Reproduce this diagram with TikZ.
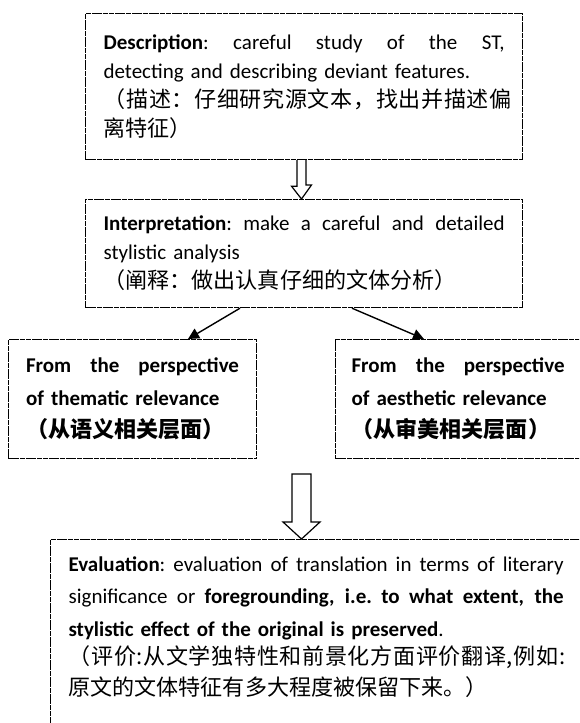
\documentclass[tikz,border=0pt]{standalone}
\usepackage{fontspec}
\setmainfont{Carlito}
\newfontfamily\cjk{Noto Sans CJK SC}[Scale=1.05]
\newfontfamily\cjkls{Noto Sans CJK SC}[Scale=1.05,LetterSpace=3]
\usetikzlibrary{arrows.meta,calc}
\newcommand\jl[2]{\leavevmode\hbox to #1{\spaceskip=0.23em plus 1fil\xspaceskip=0.23em plus 1fil\relax #2}}
\tikzset{
  box/.style={draw, line width=1.2pt, dash pattern=on 5pt off 0.7pt, anchor=north west,
    align=left, font=\fontsize{21}{29}\selectfont, inner ysep=0pt},
  sidebox/.style={box, font=\fontsize{21}{32.5}\selectfont},
  arr/.style={line width=1.4pt, -{Triangle[length=11pt,width=11pt]}},
  hollow/.style={line width=1.2pt, line join=miter}
}
\begin{document}
\begin{tikzpicture}[x=1pt,y=1pt]
\useasboundingbox (0,0) rectangle (579,-723);
\fill[white] (0,0) rectangle (579,-723);
\clip (0,0) rectangle (579,-723);

\node[box, minimum width=437pt, minimum height=146pt, text width=401pt, inner xsep=18pt]
  (desc) at (85,-13) {%
  \jl{401pt}{\textbf{Description}: careful study of the ST,}\\
  detecting and describing deviant features.\\
  {\cjkls （描述：仔细研究源文本，找出并描述偏}\\
  {\cjk 离特征）}};

\node[box, minimum width=437pt, minimum height=108pt, text width=401pt, inner xsep=18pt]
  (interp) at (85,-199) {%
  \jl{401pt}{\textbf{Interpretation}: make a careful and detailed}\\
  stylistic analysis\\
  {\cjk （阐释：做出认真仔细的文体分析）}};

\node[sidebox, minimum width=248pt, minimum height=119pt, text width=213pt, inner xsep=17.5pt]
  (thematic) at (8,-339) {%
  \jl{213pt}{\textbf{From the perspective}}\\
  \textbf{of thematic relevance}\\
  {\cjk\bfseries （从语义相关层面）}};

\node[sidebox, minimum width=243pt, minimum height=119pt, text width=213pt, inner xsep=16pt]
  (aesthetic) at (335,-339) {%
  \jl{213pt}{\textbf{From the perspective}}\\
  \textbf{of aesthetic relevance}\\
  {\cjk\bfseries （从审美相关层面）}};

\node[box, text width=495pt, inner xsep=18pt, inner ysep=17pt,
  font=\fontsize{21}{32.5}\selectfont]
  (eval) at (50,-539) {%
  \jl{495pt}{\textbf{Evaluation}: evaluation of translation in terms of literary}\\
  \jl{495pt}{significance or \textbf{foregrounding, i.e. to what extent, the}}\\
  \textbf{stylistic effect of the original is preserved}.\\[-4pt]
  {\cjkls （评价:从文学独特性和前景化方面评价翻译,例如:}\\[-2pt]
  {\cjk 原文的文体特征有多大程度被保留下来。）}\\
  \rule{0pt}{90pt}};

% diagonal arrows
\draw[arr] ([xshift=155pt]interp.south west) -- ([xshift=180pt]thematic.north west);
\draw[arr] ([xshift=267pt]interp.south west) -- ([xshift=89pt]aesthetic.north west);

% hollow arrow 1
\draw[hollow] ([xshift=212pt]desc.south west) -- ++(0,-26) -- ++(-5.5,0)
  -- ([xshift=216.5pt]interp.north west) -- ++(10,14) -- ++(-5.5,0)
  -- ([xshift=221pt]desc.south west);

% hollow arrow 2
\coordinate (h2) at (301.5,-474);
\draw[hollow] ($(h2)+(-9.5,0)$) -- ++(0,-48) -- ++(-9,0)
  -- ([xshift=251.5pt]eval.north west) -- ++(18.5,17) -- ++(-9,0)
  -- ($(h2)+(9.5,0)$) -- cycle;
\end{tikzpicture}
\end{document}
